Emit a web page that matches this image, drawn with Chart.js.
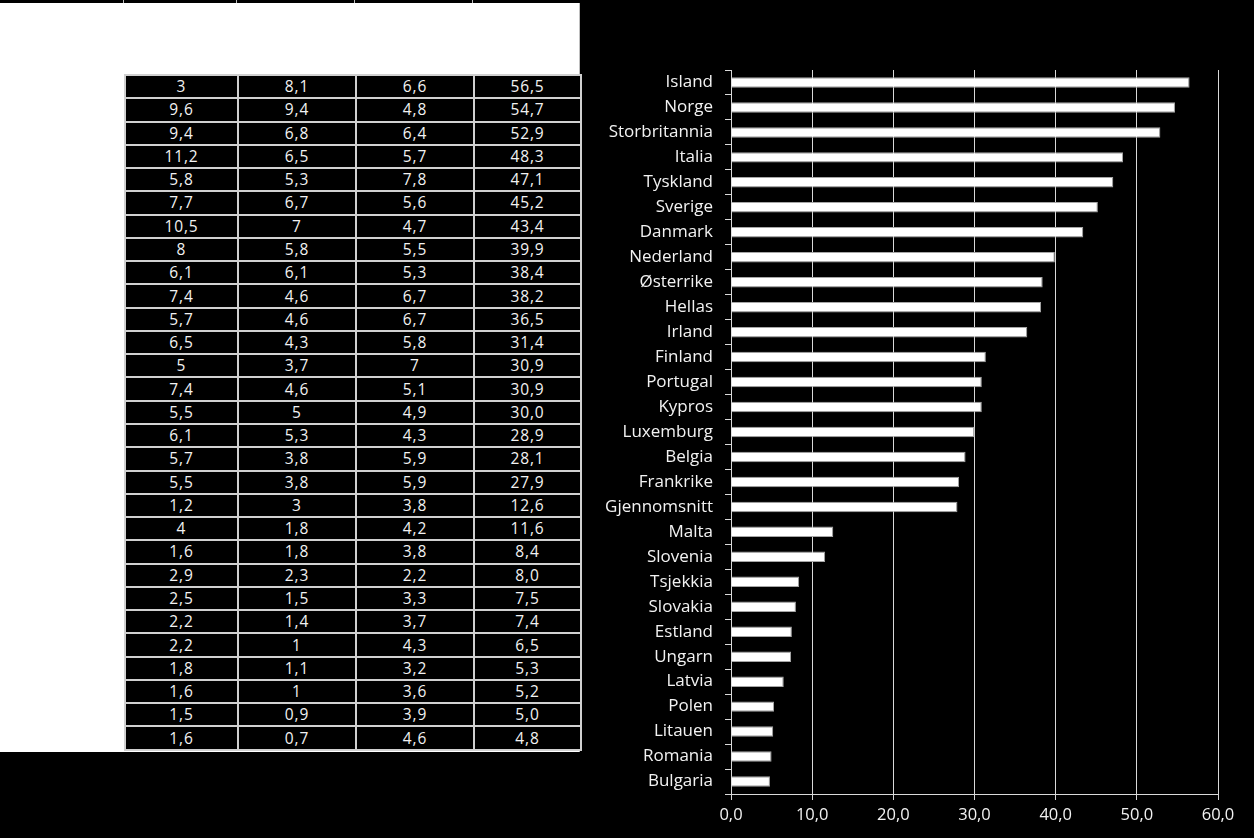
<!DOCTYPE html>
<html>
<head>
<meta charset="utf-8">
<script src="https://cdn.jsdelivr.net/npm/chart.js@4/dist/chart.umd.min.js"></script>
<style>
  html, body { margin:0; padding:0; background:#000; width:1254px; height:838px; overflow:hidden; }
  #white { position:absolute; left:0; top:3px; width:579px; height:749px; background:#fff; border-right:1px solid #bfbfbf; }
  .mark { position:absolute; top:0; width:1px; height:3px; background:#bfbfbf; }
  #tbl { position:absolute; left:124px; top:74px; width:456px; height:677px; border-collapse:collapse; table-layout:fixed; }
  #tbl td { border:2px solid #d0d0d0; background:#000; color:#f2f2f2; text-align:center; font-family:"Open Sans", sans-serif; font-size:15.5px; letter-spacing:0.9px; padding:0; height:21px; line-height:19px; }
  #wrap { position:absolute; left:590px; top:0; width:664px; height:838px; }
</style>
</head>
<body>
<div id="white"></div>
<div class="mark" style="left:123px"></div>
<div class="mark" style="left:236px"></div>
<div class="mark" style="left:354px"></div>
<div class="mark" style="left:472px"></div>
<table id="tbl"><colgroup><col style="width:113px"><col style="width:118px"><col style="width:118px"><col style="width:107px"></colgroup><tbody id="tb"></tbody></table>
<div id="wrap"><canvas id="c" width="664" height="838"></canvas></div>
<script>
const categories = ["Island","Norge","Storbritannia","Italia","Tyskland","Sverige","Danmark","Nederland","Østerrike","Hellas","Irland","Finland","Portugal","Kypros","Luxemburg","Belgia","Frankrike","Gjennomsnitt","Malta","Slovenia","Tsjekkia","Slovakia","Estland","Ungarn","Latvia","Polen","Litauen","Romania","Bulgaria"];
const col1 = [3,9.6,9.4,11.2,5.8,7.7,10.5,8,6.1,7.4,5.7,6.5,5,7.4,5.5,6.1,5.7,5.5,1.2,4,1.6,2.9,2.5,2.2,2.2,1.8,1.6,1.5,1.6];
const col2 = [8.1,9.4,6.8,6.5,5.3,6.7,7,5.8,6.1,4.6,4.6,4.3,3.7,4.6,5,5.3,3.8,3.8,3,1.8,1.8,2.3,1.5,1.4,1,1.1,1,0.9,0.7];
const col3 = [6.6,4.8,6.4,5.7,7.8,5.6,4.7,5.5,5.3,6.7,6.7,5.8,7,5.1,4.9,4.3,5.9,5.9,3.8,4.2,3.8,2.2,3.3,3.7,4.3,3.2,3.6,3.9,4.6];
const totals = [56.5,54.7,52.9,48.3,47.1,45.2,43.4,39.9,38.4,38.2,36.5,31.4,30.9,30.9,30.0,28.9,28.1,27.9,12.6,11.6,8.4,8.0,7.5,7.4,6.5,5.3,5.2,5.0,4.8];
const xTicks = [0,10,20,30,40,50,60];

const comma = v => String(v).replace('.', ',');
const tb = document.getElementById('tb');
for (let i = 0; i < totals.length; i++) {
  const tr = document.createElement('tr');
  [comma(col1[i]), comma(col2[i]), comma(col3[i]), totals[i].toFixed(1).replace('.', ',')].forEach(t => {
    const td = document.createElement('td'); td.textContent = t; tr.appendChild(td);
  });
  tb.appendChild(tr);
}

new Chart(document.getElementById('c'), {
  type: 'bar',
  data: {
    labels: categories,
    datasets: [{
      data: totals,
      backgroundColor: '#ffffff',
      borderColor: '#a6a6a6',
      borderWidth: 1,
      barPercentage: 0.42,
      categoryPercentage: 1.0
    }]
  },
  options: {
    indexAxis: 'y',
    responsive: false,
    animation: false,
    layout: { padding: { top: 70, right: 36, bottom: 0, left: 0 } },
    plugins: { legend: { display: false }, tooltip: { enabled: false } },
    scales: {
      x: {
        min: 0, max: 60,
        afterBuildTicks: s => { s.ticks = xTicks.map(v => ({ value: v })); },
        afterFit: s => { s.height = 44; },
        grid: { color: '#d9d9d9', lineWidth: 1, drawTicks: true, tickLength: 6, tickColor: '#d9d9d9' },
        border: { display: true, color: '#d9d9d9', width: 1 },
        ticks: { color: '#f2f2f2', font: { family: 'Open Sans', size: 16.5 }, padding: 5,
                 callback: v => Number(v).toFixed(1).replace('.', ',') }
      },
      y: {
        afterFit: s => { s.width = 141; },
        grid: { offset: true, drawOnChartArea: false, drawTicks: true, tickLength: 6, tickColor: '#d9d9d9', color: '#d9d9d9' },
        border: { display: true, color: '#d9d9d9', width: 1 },
        ticks: { color: '#f2f2f2', font: { family: 'Open Sans', size: 17 }, padding: 12, autoSkip: false }
      }
    }
  }
});
</script>
</body>
</html>
